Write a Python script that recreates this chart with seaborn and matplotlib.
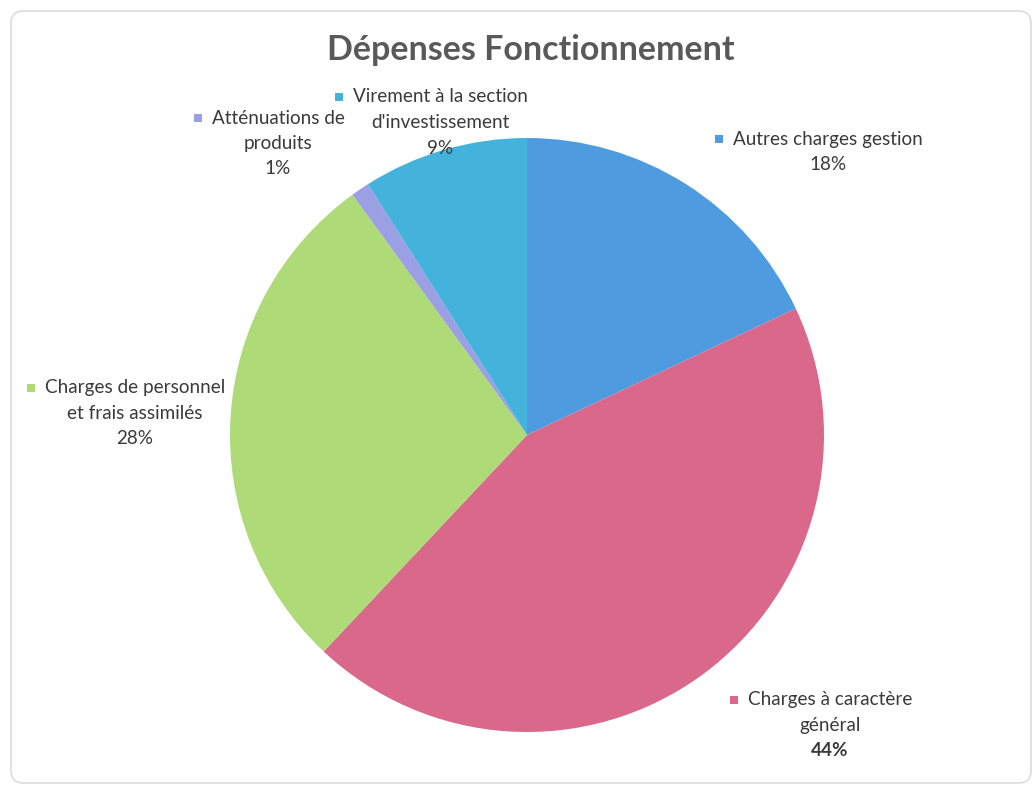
import matplotlib
matplotlib.use("Agg")
import matplotlib.pyplot as plt
from matplotlib.patches import FancyBboxPatch
import seaborn as sns

categories = ["Autres charges gestion", "Charges à caractère général",
              "Charges de personnel et frais assimilés", "Atténuations de produits",
              "Virement à la section d'investissement"]
label_lines = [["Autres charges gestion"],
               ["Charges à caractère", "général"],
               ["Charges de personnel", "et frais assimilés"],
               ["Atténuations de", "produits"],
               ["Virement à la section", "d'investissement"]]
values = [18, 44, 28, 1, 9]
colors = ["#4f9be0", "#d9688a", "#aedb78", "#9b9fe4", "#44b3dc"]
bold_pct = [False, True, False, False, False]
# label anchor positions (pixel x-center of text, y of first line) - layout only
label_pos = [(828, 139), (830, 700), (135, 388), (278, 118), (440, 97)]

sns.set_theme(style="white")
plt.rcParams['font.family'] = ['Lato', 'DejaVu Sans']

W, H = 1033, 791
fig = plt.figure(figsize=(W / 100, H / 100), dpi=100)
fig.patch.set_facecolor("white")

border = FancyBboxPatch((11 / W, 8 / H), (1020 / W), (772 / H),
                        boxstyle="round,pad=0,rounding_size=0.012",
                        transform=fig.transFigure, facecolor="none",
                        edgecolor="#dcdcdc", linewidth=1.2, mutation_aspect=W / H)
fig.patches.append(border)

cx, cy, r = 527, 435, 297
ax = fig.add_axes([(cx - r) / W, (H - cy - r) / H, 2 * r / W, 2 * r / H])
ax.pie(values, colors=colors, startangle=90, counterclock=False, radius=1,
       wedgeprops=dict(linewidth=0))
ax.set_xlim(-1, 1)
ax.set_ylim(-1, 1)
ax.set_aspect("equal")
ax.axis("off")

fig.text(531 / W, 1 - 50 / H, "Dépenses Fonctionnement", ha="center", va="center",
         fontsize=24.5, fontweight="bold", color="#595959")

txt_color = "#3a3a3a"
fs = 13.6
line_h = 25.5
fig.canvas.draw()
renderer = fig.canvas.get_renderer()
for lines, v, col, (x, y), b in zip(label_lines, values, colors, label_pos, bold_pct):
    all_lines = lines + [f"{v}%"]
    for i, ln in enumerate(all_lines):
        t = fig.text(x / W, 1 - (y + i * line_h) / H, ln, ha="center", va="center",
                     fontsize=fs, color=txt_color,
                     fontweight="bold" if (b and i == len(all_lines) - 1) else "normal")
        if i == 0:
            bb = t.get_window_extent(renderer)
            mx = bb.x0 - 14
            fig.patches.append(plt.Rectangle(((mx - 4) / W, (H - y - 4) / H), 8 / W, 8 / H,
                                             transform=fig.transFigure, facecolor=col,
                                             edgecolor="none"))

fig.savefig("out.png", dpi=100, facecolor="white")
